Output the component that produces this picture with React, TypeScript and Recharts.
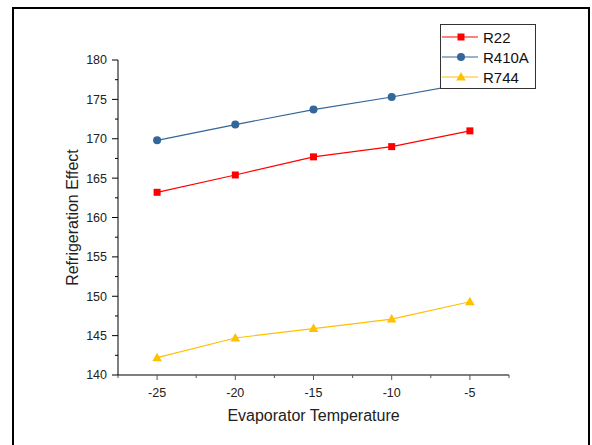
import { LineChart, Line, XAxis, YAxis, Legend } from 'recharts';

const temps = [-25, -20, -15, -10, -5];
const r22 = [163.2, 165.4, 167.7, 169.0, 171.0];
const r410a = [169.8, 171.8, 173.7, 175.3, 177.1];
const r744 = [142.2, 144.7, 145.9, 147.1, 149.3];

const seriesNames = ['R22', 'R410A', 'R744'];
const seriesColors = ['#ff0000', '#336699', '#ffc000'];
const seriesShapes = ['square', 'circle', 'triangle'];

const xTicks = [-27.5, -25, -22.5, -20, -17.5, -15, -12.5, -10, -7.5, -5, -2.5];
const xMajor = [-25, -20, -15, -10, -5];
const yTicks = [140, 142.5, 145, 147.5, 150, 152.5, 155, 157.5, 160, 162.5, 165, 167.5, 170, 172.5, 175, 177.5, 180];
const yMajor = [140, 145, 150, 155, 160, 165, 170, 175, 180];

const data = temps.map((t, i) => ({ t, R22: r22[i], R410A: r410a[i], R744: r744[i] }));

const font = '"Liberation Sans", Arial, sans-serif';

function Marker({ shape, cx, cy, color }: { shape: string; cx: number; cy: number; color: string }) {
  if (shape === 'square') return <rect x={cx - 3.5} y={cy - 3.5} width={7} height={7} fill={color} />;
  if (shape === 'circle') return <circle cx={cx} cy={cy} r={4} fill={color} />;
  return <polygon points={`${cx},${cy - 5} ${cx + 4.8},${cy + 3.5} ${cx - 4.8},${cy + 3.5}`} fill={color} />;
}

const YTick = (props: any) => {
  const { x, y, payload } = props;
  const major = yMajor.includes(payload.value);
  return (
    <g>
      <line x1={x} x2={x - (major ? 6 : 3)} y1={y} y2={y} stroke="#000" strokeWidth={1} />
      {major && (
        <text x={x - 11} y={y + 4.4} textAnchor="end" fontSize={12.5} fontFamily={font} fill="#222">
          {payload.value}
        </text>
      )}
    </g>
  );
};

const XTick = (props: any) => {
  const { x, y, payload } = props;
  const major = xMajor.includes(payload.value);
  return (
    <g>
      <line x1={x} x2={x} y1={y} y2={y + (major ? 5 : 3)} stroke="#555" strokeWidth={1} />
      {major && (
        <text x={x} y={y + 21.5} textAnchor="middle" fontSize={12.5} fontFamily={font} fill="#222">
          {payload.value}
        </text>
      )}
    </g>
  );
};

const LegendBox = (props: any) => {
  const payload = props.payload || [];
  return (
    <div style={{ border: '1px solid #333', background: '#fff', paddingTop: 2, paddingBottom: 1, width: 94, boxSizing: 'content-box' }}>
      {payload.map((p: any) => {
        const i = seriesNames.indexOf(p.value);
        return (
          <div key={p.value} style={{ display: 'flex', alignItems: 'center', height: 20 }}>
            <svg width={40} height={20} style={{ display: 'block' }}>
              <line x1={1} x2={37} y1={10} y2={10} stroke={seriesColors[i]} strokeWidth={1.2} />
              <Marker shape={seriesShapes[i]} cx={20} cy={10} color={seriesColors[i]} />
            </svg>
            <span style={{ fontFamily: font, fontSize: 15, color: '#111', marginLeft: 2 }}>{p.value}</span>
          </div>
        );
      })}
    </div>
  );
};

export default function App() {
  return (
    <div style={{ position: 'absolute', left: 0, top: 0, width: 592, height: 445, overflow: 'hidden', background: '#fff' }}>
      <div style={{ position: 'absolute', left: 12, top: 7, width: 578, height: 470, border: '2px solid #000', boxSizing: 'border-box' }} />
      <div style={{ position: 'absolute', left: 0, top: 0 }}>
        <LineChart width={592} height={445} data={data} margin={{ top: 60, right: 83, bottom: 30, left: 58 }}>
          <XAxis
            dataKey="t"
            type="number"
            domain={[-27.5, -2.5]}
            ticks={xTicks}
            interval={0}
            height={40}
            tickSize={0}
            tickMargin={0}
            tickLine={false}
            tick={<XTick />}
            axisLine={{ stroke: '#555', strokeWidth: 1.6 }}
            label={(p: any) => {
              const vb = p.viewBox;
              return (
                <text x={vb.x + vb.width / 2} y={vb.y + 46} textAnchor="middle" fontSize={16} fontFamily={font} fill="#222">
                  Evaporator Temperature
                </text>
              );
            }}
          />
          <YAxis
            type="number"
            domain={[140, 180]}
            ticks={yTicks}
            interval={0}
            width={60}
            tickSize={0}
            tickMargin={0}
            tickLine={false}
            tick={<YTick />}
            axisLine={{ stroke: '#000', strokeWidth: 1 }}
            label={(p: any) => {
              const vb = p.viewBox;
              const cx = vb.x + vb.width - 46;
              const cy = vb.y + vb.height / 2;
              return (
                <text x={cx} y={cy} textAnchor="middle" dominantBaseline="central" transform={`rotate(-90, ${cx}, ${cy})`} fontSize={16} fontFamily={font} fill="#222">
                  Refrigeration Effect
                </text>
              );
            }}
          />
          <Legend
            layout="vertical"
            align="center"
            verticalAlign="middle"
            content={<LegendBox />}
            wrapperStyle={{ left: 440, top: 24, width: 96, height: 63 }}
          />
          {seriesNames.map((name, i) => (
            <Line
              key={name}
              dataKey={name}
              name={name}
              stroke={seriesColors[i]}
              strokeWidth={1.2}
              isAnimationActive={false}
              dot={(d: any) => <Marker key={`${name}-${d.index}`} shape={seriesShapes[i]} cx={d.cx} cy={d.cy} color={seriesColors[i]} />}
              activeDot={false}
            />
          ))}
        </LineChart>
      </div>
    </div>
  );
}
